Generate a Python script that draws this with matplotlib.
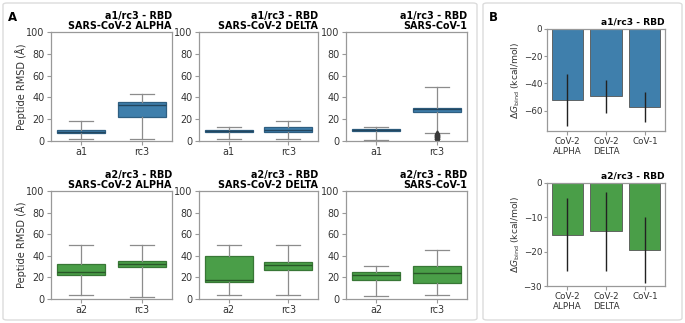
import matplotlib
matplotlib.use("Agg")
import matplotlib.pyplot as plt
from matplotlib.patches import FancyBboxPatch

# ---- RMSD box statistics (whisker low, Q1, median, Q3, whisker high) ----
variants = ["SARS-CoV-2 ALPHA", "SARS-CoV-2 DELTA", "SARS-CoV-1"]
row_peptides = ["a1", "a2"]

rmsd_a1 = [[2, 7, 8.5, 10, 18], [2, 8.5, 9.5, 10.5, 13], [1, 9, 10, 11, 13]]
rmsd_rc3_top = [[2, 22, 33, 36, 43], [2, 8, 10, 13, 18], [7, 27, 29, 30.5, 50]]
rmsd_a2 = [[3.5, 22.5, 25, 32, 50], [3.5, 16, 18, 40, 50], [3, 18, 22, 25, 30.5]]
rmsd_rc3_bot = [[2, 30, 32.5, 35.5, 50], [3.5, 26.5, 31.5, 34, 50], [4, 15, 24.5, 30.5, 45]]
fliers_rc3_cov1 = [1.5, 2.2, 2.8, 3.3, 3.8, 4.3, 4.8, 5.3, 5.8, 6.3]

# ---- binding free energy ----
bar_labels = ["CoV-2\nALPHA", "CoV-2\nDELTA", "CoV-1"]
dg_a1 = [-52, -49.5, -57.5]
dg_a1_err = [19, 12, 11]
dg_a2 = [-15, -14, -19.5]
dg_a2_err = [10.5, 11.5, 9.5]

BLUE = "#3f7fac"
GREEN = "#4a9e48"
W, H = 685, 323

plt.rcParams["font.family"] = ["DejaVu Sans"]
fig = plt.figure(figsize=(W / 100, H / 100), dpi=100)


def rect(l, t, r, b):
    return [l / W, 1 - b / H, (r - l) / W, (b - t) / H]


def style(ax, size):
    for s in ax.spines.values():
        s.set_color("#999999")
        s.set_linewidth(0.9)
    ax.tick_params(labelsize=size, length=3, width=0.8, color="#999999",
                   labelcolor="#333333", pad=1.5)


def darker(c, f=0.6):
    rgb = matplotlib.colors.to_rgb(c)
    return tuple(v * f for v in rgb)


def boxes(ax, stats_pair, labels, color, fliers=None):
    stats = []
    for i, (s, lab) in enumerate(zip(stats_pair, labels)):
        d = dict(whislo=s[0], q1=s[1], med=s[2], q3=s[3], whishi=s[4], label=lab,
                 fliers=(fliers[i] if fliers else []))
        stats.append(d)
    ax.bxp(stats, positions=[1, 2], widths=0.8, patch_artist=True,
           capwidths=0.4,
           boxprops=dict(facecolor=color, edgecolor=darker(color, 0.75), linewidth=0.9),
           medianprops=dict(color=darker(color, 0.55), linewidth=1.0),
           whiskerprops=dict(color="#8c8c8c", linewidth=0.9),
           capprops=dict(color="#8c8c8c", linewidth=0.9),
           flierprops=dict(marker="d", markersize=3.5, markerfacecolor="#3a3a3a",
                           markeredgecolor="#3a3a3a"))
    ax.set_xlim(0.5, 2.5)
    ax.set_ylim(0, 100)
    ax.set_yticks([0, 20, 40, 60, 80, 100])
    style(ax, 6.9)


lefts = [51, 199, 346]
rights = [172, 318, 467]
rows = [(32, 141, "a1", rmsd_a1, rmsd_rc3_top, BLUE),
        (191, 299, "a2", rmsd_a2, rmsd_rc3_bot, GREEN)]

for top, bot, pep, first, second, color in rows:
    for j in range(3):
        ax = fig.add_axes(rect(lefts[j], top, rights[j], bot))
        fl = None
        if pep == "a1" and j == 2:
            fl = [[], fliers_rc3_cov1]
        boxes(ax, [first[j], second[j]], [pep, "rc3"], color, fl)
        ax.set_title(f"{pep}/rc3 - RBD\n{variants[j]}", loc="right",
                     fontsize=6.9, fontweight="bold", pad=2, linespacing=1.0)
        if j == 0:
            ax.set_ylabel("Peptide RMSD (Å)", fontsize=7.1, color="#333333")
            ax.yaxis.set_label_coords(-0.2, 0.5)

# ---- panel B bars ----
bar_rows = [(29, 131, "a1", dg_a1, dg_a1_err, BLUE, (-75, 0), [0, -20, -40, -60]),
            (183, 286, "a2", dg_a2, dg_a2_err, GREEN, (-30, 0), [0, -10, -20, -30])]
for top, bot, pep, vals, errs, color, ylim, yt in bar_rows:
    ax = fig.add_axes(rect(547, top, 665, bot))
    x = range(len(bar_labels))
    ax.bar(x, vals, width=0.8, color=color, edgecolor="#555555", linewidth=0.6)
    ax.errorbar(x, vals, yerr=errs, fmt="none", ecolor="#222222", elinewidth=1.0, capsize=0)
    ax.set_xlim(-0.52, 2.52)
    ax.set_ylim(*ylim)
    ax.set_yticks(yt)
    ax.set_xticks(list(x))
    ax.set_xticklabels(bar_labels, linespacing=1.1)
    style(ax, 6.3)
    ax.tick_params(axis="y", length=2.5, pad=1.0)
    ax.set_title(f"{pep}/rc3 - RBD", loc="right", fontsize=6.6, fontweight="bold", pad=3)
    ax.set_ylabel(r"$\Delta G_{\rm bind}$ (kcal/mol)", fontsize=6.6, color="#333333")
    ax.yaxis.set_label_coords(-0.215, 0.5)

# ---- panel frames and letters ----
for l, t, r, b in [(3, 3, 477, 320), (483, 3, 682, 320)]:
    fig.patches.append(FancyBboxPatch((l / W, 1 - b / H), (r - l) / W, (b - t) / H,
                                      boxstyle="round,pad=0,rounding_size=0.006",
                                      transform=fig.transFigure, facecolor="none",
                                      edgecolor="#dcdcdc", linewidth=1.0))
fig.text(8 / W, 1 - 21 / H, "A", fontsize=8.5, fontweight="bold")
fig.text(489 / W, 1 - 21 / H, "B", fontsize=8.5, fontweight="bold")

fig.savefig("out.png", dpi=100)
